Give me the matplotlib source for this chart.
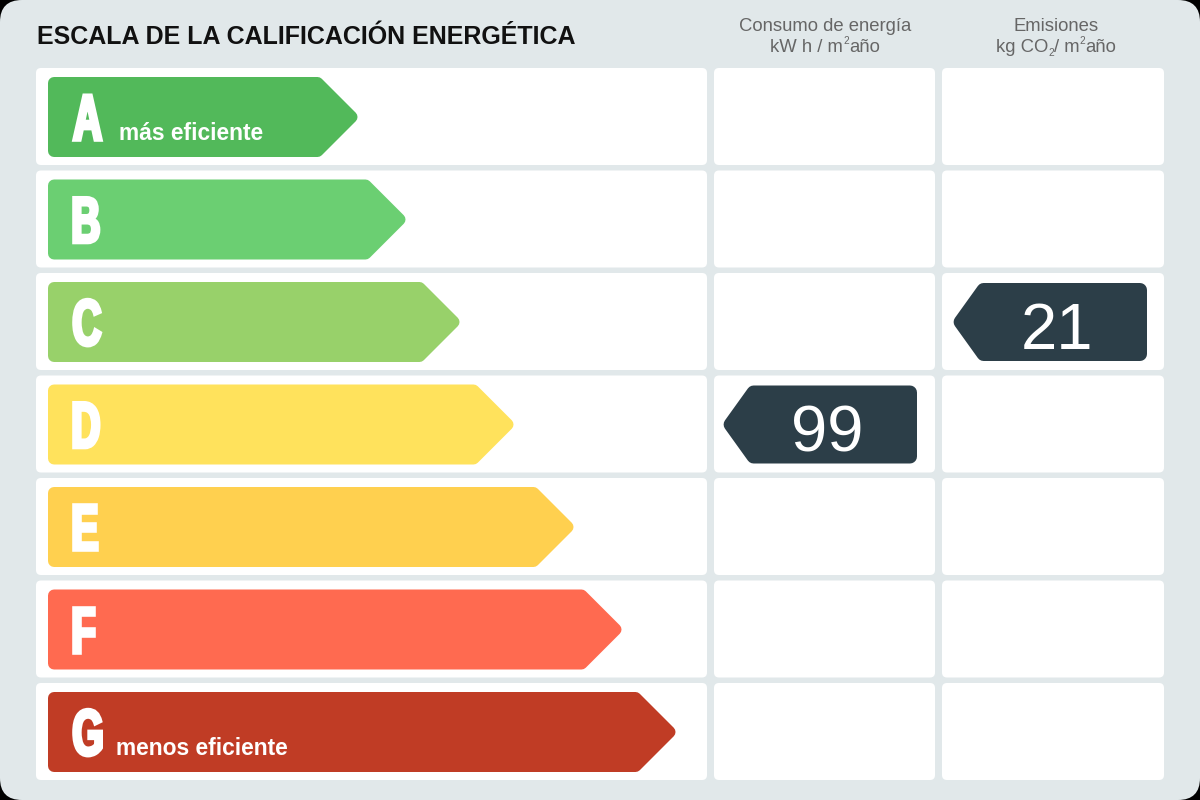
import numpy as np
import matplotlib
matplotlib.use('Agg')
import matplotlib.pyplot as plt
from matplotlib.patches import FancyBboxPatch, Polygon, PathPatch
from matplotlib.textpath import TextPath
from matplotlib.font_manager import FontProperties
from matplotlib.transforms import Affine2D

plt.rcParams['font.family'] = ['Liberation Sans', 'DejaVu Sans']

# data
categories = ['A', 'B', 'C', 'D', 'E', 'F', 'G']
arrow_colors = ['#52b95a', '#6bcf72', '#98d16a', '#ffe25c', '#ffd04f', '#ff6a50', '#c03c25']
top_label = 'más eficiente'
bottom_label = 'menos eficiente'
consumo_rating = 'D'
consumo_value = 99
emisiones_rating = 'C'
emisiones_value = 21

title = 'ESCALA DE LA CALIFICACIÓN ENERGÉTICA'
header_consumo = ['Consumo de energía', 'kW h / m', 'año']
header_emisiones = ['Emisiones', 'kg CO', '/ m', 'año']

# layout (pixels)
arrow_ends = [360, 408, 462, 516, 576, 624, 678]
row_top0 = 68
row_pitch = 102.5
row_h = 97
col_left = (36, 707)
col_mid = (714, 935)
col_right = (942, 1164)
bg = '#e1e8ea'
tag_color = '#2c3e48'
head_color = '#666666'


def inset(pts, r):
    # shrink a convex polygon so a round stroke of radius r restores its size
    pts = np.asarray(pts, float)
    c = pts.mean(axis=0)
    n = len(pts)
    lines = []
    for i in range(n):
        p, q = pts[i], pts[(i + 1) % n]
        d = q - p
        nrm = np.array([-d[1], d[0]]) / np.hypot(*d)
        if np.dot(c - p, nrm) < 0:
            nrm = -nrm
        lines.append((p + nrm * r, d))
    out = []
    for i in range(n):
        p1, d1 = lines[i - 1]
        p2, d2 = lines[i]
        t, s = np.linalg.solve(np.array([d1, -d2]).T, p2 - p1)
        out.append(p1 + t * d1)
    return out


def rounded_poly(ax, pts, color, r=6):
    ax.add_patch(Polygon(inset(pts, r), closed=True, fc=color, ec=color,
                         lw=2 * r * 72 / 100, joinstyle='round'))


fig = plt.figure(figsize=(12, 8), dpi=100, facecolor='black')
ax = fig.add_axes([0, 0, 1, 1])
ax.set_xlim(0, 1200)
ax.set_ylim(800, 0)
ax.axis('off')

ax.add_patch(FancyBboxPatch((0, 0), 1200, 800, boxstyle='round,pad=0,rounding_size=22',
                            fc=bg, ec='none'))

ax.text(37, 44, title, fontsize=18, fontweight='bold', color='#111111', va='baseline')


def header_line(y, cx, parts, fs=13.3):
    # parts: list of (text, kind) where kind is 'n', 'sup' or 'sub'
    r = fig.canvas.get_renderer()
    items = []
    total = 0
    for txt, kind in parts:
        size = fs if kind == 'n' else fs * 0.55
        t = ax.text(0, 0, txt, fontsize=size, color=head_color, va='baseline')
        w = t.get_window_extent(renderer=r).width
        items.append((t, kind, w))
        total += w
    x = cx - total / 2
    for t, kind, w in items:
        dy = {'n': 0, 'sup': -8, 'sub': 4}[kind]
        t.set_position((x, y + dy))
        x += w


for cx, head in [(825, header_consumo), (1056, header_emisiones)]:
    ax.text(cx, 31, head[0], fontsize=13.3, color=head_color, ha='center', va='baseline')
header_line(52, 825, [(header_consumo[1], 'n'), ('2', 'sup'), (header_consumo[2], 'n')])
header_line(52, 1056, [(header_emisiones[1], 'n'), ('2', 'sub'), (header_emisiones[2], 'n'),
                       ('2', 'sup'), (header_emisiones[3], 'n')])

letter_font = FontProperties(family='Liberation Sans', weight='bold')

for i, (cat, col) in enumerate(zip(categories, arrow_colors)):
    top = row_top0 + i * row_pitch
    for x0, x1 in (col_left, col_mid, col_right):
        ax.add_patch(FancyBboxPatch((x0, top), x1 - x0, row_h,
                                    boxstyle='round,pad=0,rounding_size=5',
                                    fc='white', ec='none'))
    # rating arrow
    a_top = top + 9
    a_bot = a_top + 80
    cy = (a_top + a_bot) / 2
    tip = arrow_ends[i]
    rounded_poly(ax, [(48, a_top), (tip - 40, a_top), (tip, cy), (tip - 40, a_bot), (48, a_bot)], col)

    # condensed heavy letter
    tp = TextPath((0, 0), cat, size=65, prop=letter_font)
    ext = tp.get_extents()
    sx = 0.62
    baseline = cy + 23
    tr = Affine2D().translate(-ext.x0, 0).scale(sx, -1).translate(74, baseline)
    ax.add_patch(PathPatch(tr.transform_path(tp), fc='white', ec='white', lw=2.6, joinstyle='miter'))

    if i == 0:
        ax.text(119, cy + 23, top_label, fontsize=16.4, fontweight='bold', color='white', va='baseline')
    if i == len(categories) - 1:
        ax.text(116, cy + 23, bottom_label, fontsize=16.4, fontweight='bold', color='white', va='baseline')

    # value tags
    for rating, value, (x0, x1) in [(consumo_rating, consumo_value, (722, 917)),
                                    (emisiones_rating, emisiones_value, (952, 1147))]:
        if rating == cat:
            t_top = cy - 39
            t_bot = cy + 39
            rounded_poly(ax, [(x0, cy), (x0 + 28, t_top), (x1, t_top), (x1, t_bot), (x0 + 28, t_bot)],
                         tag_color, r=7)
            ax.text((x0 + x1) / 2 + 8, cy + 27, str(value), fontsize=47, color='white',
                    ha='center', va='baseline')

fig.savefig('out.png', dpi=100, facecolor='black')
